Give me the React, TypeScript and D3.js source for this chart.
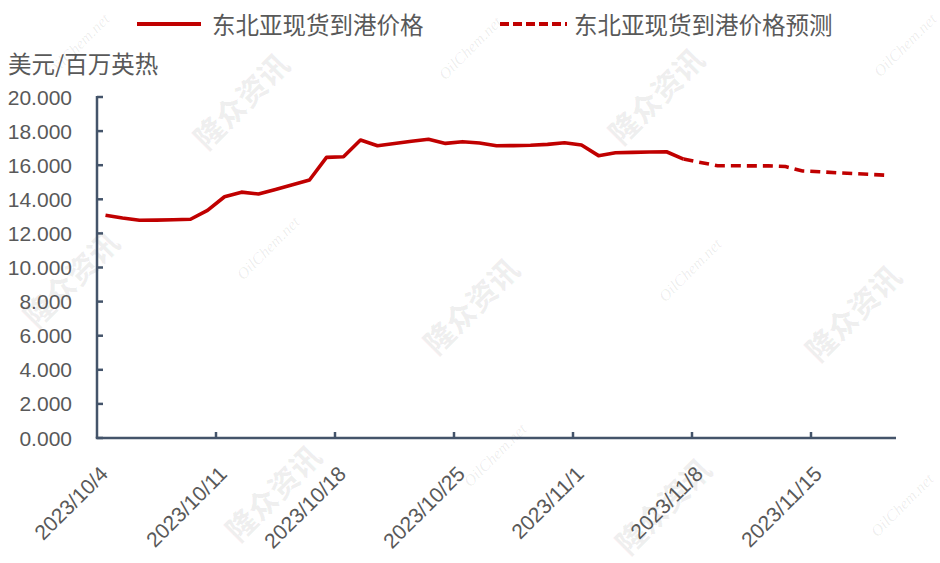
import React from "react";
import * as d3 from "d3";

const startDate = "2023-10-04";
const endDate = "2023-11-20";
const tickDates = ["2023-10-04", "2023-10-11", "2023-10-18", "2023-10-25", "2023-11-01", "2023-11-08", "2023-11-15"];
const yTicks = [0, 2, 4, 6, 8, 10, 12, 14, 16, 18, 20];

// daily values 2023/10/4 .. 2023/11/7
const actualStart = "2023-10-04";
const actualValues = [
  13.06, 12.9, 12.77, 12.78, 12.8, 12.83, 13.35, 14.15, 14.42, 14.31,
  14.57, 14.85, 15.13, 16.46, 16.5, 17.48, 17.14, 17.27, 17.4, 17.52,
  17.28, 17.38, 17.3, 17.14, 17.15, 17.17, 17.22, 17.32, 17.18, 16.56,
  16.73, 16.75, 16.77, 16.79, 16.36,
];
// daily forecast 2023/11/7 .. 2023/11/19
const forecastStart = "2023-11-07";
const forecastValues = [
  16.36, 16.16, 15.97, 15.97, 15.96, 15.96, 15.92, 15.66, 15.62, 15.56, 15.51, 15.46, 15.41,
];

const seriesNames = ["东北亚现货到港价格", "东北亚现货到港价格预测"];
const yTitle = "美元/百万英热";

const watermarksCN = [
  [240, 100], [655, 95], [470, 305], [852, 312], [70, 278], [272, 492], [662, 505],
];
const watermarksEN = [
  [470, 48], [905, 45], [268, 248], [690, 270], [902, 505], [78, 45], [495, 455],
];

const parse = d3.utcParse("%Y-%m-%d");
const fmtTick = (d: Date) => `${d.getUTCFullYear()}/${d.getUTCMonth() + 1}/${d.getUTCDate()}`;

function toPoints(start: string, values: number[]) {
  const s = parse(start)!;
  return values.map((v, i) => ({ date: d3.utcHour.offset(d3.utcDay.offset(s, i), 12), v }));
}

export default function App() {
  const W = 940, H = 563;
  const x = d3.scaleUtc().domain([parse(startDate)!, parse(endDate)!]).range([97, 896]);
  const y = d3.scaleLinear().domain([0, 20]).range([438, 97]);
  const line = d3.line<{ date: Date; v: number }>().x(d => x(d.date)).y(d => y(d.v));
  const actual = toPoints(actualStart, actualValues);
  const forecast = toPoints(forecastStart, forecastValues);
  const axisColor = "#44546A";
  const red = "#C00000";
  const textColor = "#595959";
  const numFont = "'Liberation Sans', Arial, sans-serif";
  const cjkFont = "'Noto Sans CJK SC', sans-serif";
  const x0 = x.range()[0];

  return (
    <svg width={W} height={H} style={{ position: "absolute", left: 0, top: 0, background: "#fff" }}>
      <rect width={W} height={H} fill="#fff" />
      {/* watermarks */}
      {watermarksCN.map(([wx, wy], i) => (
        <text key={"wc" + i} x={wx} y={wy} transform={`rotate(-45 ${wx} ${wy})`} textAnchor="middle"
          dominantBaseline="central" fontFamily={cjkFont} fontWeight={900} fontSize={30}
          fill="#000" fillOpacity={0.06}>隆众资讯</text>
      ))}
      {watermarksEN.map(([wx, wy], i) => (
        <text key={"we" + i} x={wx} y={wy} transform={`rotate(-45 ${wx} ${wy})`} textAnchor="middle"
          dominantBaseline="central" fontFamily="'Liberation Serif', serif" fontStyle="italic" fontSize={16}
          fill="#000" fillOpacity={0.08}>OilChem.net</text>
      ))}

      {/* legend */}
      <line x1={137} x2={201} y1={24} y2={24} stroke={red} strokeWidth={3.8} />
      <text x={212} y={24} dominantBaseline="central" fontFamily={cjkFont} fontSize={23.5} fill={textColor}>{seriesNames[0]}</text>
      <line x1={500} x2={567} y1={24} y2={24} stroke={red} strokeWidth={3.8} strokeDasharray="9,4" />
      <text x={574} y={24} dominantBaseline="central" fontFamily={cjkFont} fontSize={23.5} fill={textColor}>{seriesNames[1]}</text>

      {/* y title */}
      <text x={8} y={63} dominantBaseline="central" fontFamily={cjkFont} fontSize={23.5} fill={textColor}>{yTitle}</text>

      {/* y axis */}
      <line x1={x0} x2={x0} y1={y(20) - 1} y2={y(0)} stroke={axisColor} strokeWidth={2.5} />
      {yTicks.map(t => (
        <g key={"y" + t}>
          <line x1={x0} x2={x0 + 6} y1={y(t)} y2={y(t)} stroke={axisColor} strokeWidth={2.5} />
          <text x={72} y={y(t)} textAnchor="end" dominantBaseline="central" fontFamily={numFont} fontSize={21} fill={textColor}>{t.toFixed(3)}</text>
        </g>
      ))}

      {/* x axis */}
      <line x1={x0 - 1.25} x2={x.range()[1]} y1={y(0)} y2={y(0)} stroke={axisColor} strokeWidth={2.5} />
      {tickDates.map(s => {
        const d = parse(s)!;
        const tx = x(d);
        return (
          <g key={s}>
            {tx > x0 + 1 && <line x1={tx} x2={tx} y1={y(0)} y2={y(0) - 6} stroke={axisColor} strokeWidth={2.5} />}
            <text transform={`translate(${tx + 7},${470}) rotate(-45)`} textAnchor="end" dominantBaseline="central"
              fontFamily={numFont} fontSize={21} fill={textColor}>{fmtTick(d)}</text>
          </g>
        );
      })}

      {/* series */}
      <path d={line(actual)!} fill="none" stroke={red} strokeWidth={3.6} strokeLinejoin="round" />
      <path d={line(forecast)!} fill="none" stroke={red} strokeWidth={3.6} strokeDasharray="10,6" />
    </svg>
  );
}
